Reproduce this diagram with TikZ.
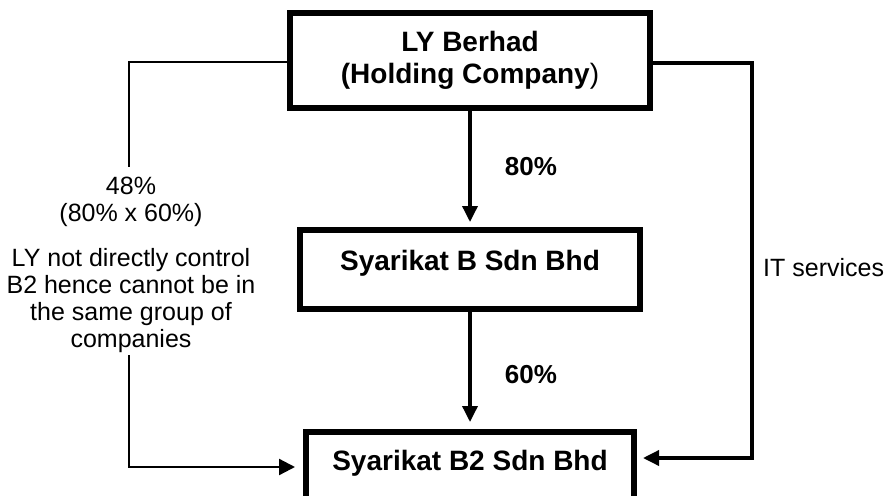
\documentclass[tikz,border=0pt]{standalone}
\usepackage{fontspec}
\setmainfont{Liberation Sans}
\usetikzlibrary{arrows.meta,calc}
\begin{document}
\begin{tikzpicture}[x=1pt,y=-1pt,
  box/.style={draw=black,line width=6pt,fill=white,inner sep=0pt,align=center,
    font=\bfseries\fontsize{28}{32}\selectfont},
  conn/.style={line width=3.5pt,-{Triangle[length=16pt,width=15pt]}},
  thin/.style={line width=2.3pt},
  pctlabel/.style={font=\bfseries\fontsize{26}{30}\selectfont,inner sep=0pt},
  note/.style={font=\fontsize{25}{27}\selectfont,align=center,inner sep=0pt}]
\useasboundingbox (0,0) rectangle (893,495);
\node[box,minimum width=360pt,minimum height=95pt] (top) at (470,60.5)
  {LY Berhad\\(Holding Company\mdseries)};
\node[box,minimum width=340pt,minimum height=79pt,text height=20pt,text depth=19pt] (mid) at (470,269.5)
  {Syarikat B Sdn Bhd};
\node[box,minimum width=328pt,minimum height=88pt,text height=20pt,text depth=32pt] (bot) at (470,476)
  {Syarikat B2 Sdn Bhd};
\draw[conn,shorten >=5pt] (top.south) -- (mid.north);
\draw[conn,shorten >=7pt] (mid.south) -- (bot.north);
\node[pctlabel] (p80) at (531,167) {80\%};
\node[pctlabel] (p60) at (531,375) {60\%};
% right connector
\coordinate (r1) at (752,63);
\coordinate (r2) at (752,458);
\draw[conn,shorten >=6pt] (top.east |- r1) -- (r1) -- (r2) -- (bot.east |- r2);
\node[note,anchor=base west] (it) at (763,276) {IT services};
% left connector
\coordinate (l1) at (129,62);
\coordinate (l2) at (129,167);
\coordinate (l3) at (129,355);
\coordinate (l4) at (129,467);
\draw[thin] (top.west |- l1) -- (l1) -- (l2);
\draw[thin,-{Triangle[length=16pt,width=16pt]},shorten >=8pt] (l3) -- (l4) -- (bot.west |- l4);
\node[note,anchor=north] (pct) at (131,177) {48\%\\(80\% x 60\%)};
\node[note,anchor=north] (txt) at (131,248) {LY not directly control\\B2 hence cannot be in\\the same group of\\companies};
\end{tikzpicture}
\end{document}
